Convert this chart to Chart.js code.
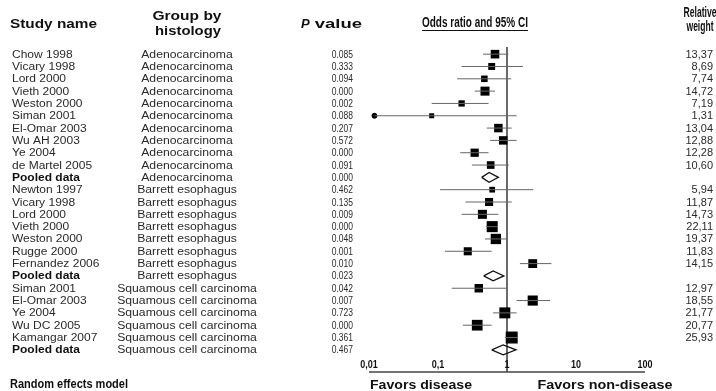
<!DOCTYPE html>
<html>
<head>
<meta charset="utf-8">
<script src="https://cdn.jsdelivr.net/npm/chart.js@4.4.1/dist/chart.umd.min.js"></script>
<style>
  body { margin: 0; background: #fff; }
  canvas { display: block; }
</style>
</head>
<body>
<canvas id="chart" width="716" height="391"></canvas>
<script>
const studies = ["Chow 1998", "Vicary 1998", "Lord 2000", "Vieth 2000", "Weston 2000", "Siman 2001", "El-Omar 2003", "Wu AH 2003", "Ye 2004", "de Martel 2005", "Pooled data",
  "Newton 1997", "Vicary 1998", "Lord 2000", "Vieth 2000", "Weston 2000", "Rugge 2000", "Fernandez 2006", "Pooled data",
  "Siman 2001", "El-Omar 2003", "Ye 2004", "Wu DC 2005", "Kamangar 2007", "Pooled data"];
const groups = ["Adenocarcinoma", "Adenocarcinoma", "Adenocarcinoma", "Adenocarcinoma", "Adenocarcinoma", "Adenocarcinoma", "Adenocarcinoma", "Adenocarcinoma", "Adenocarcinoma", "Adenocarcinoma", "Adenocarcinoma",
  "Barrett esophagus", "Barrett esophagus", "Barrett esophagus", "Barrett esophagus", "Barrett esophagus", "Barrett esophagus", "Barrett esophagus", "Barrett esophagus",
  "Squamous cell carcinoma", "Squamous cell carcinoma", "Squamous cell carcinoma", "Squamous cell carcinoma", "Squamous cell carcinoma", "Squamous cell carcinoma"];
const pValues = ["0.085", "0.333", "0.094", "0.000", "0.002", "0.088", "0.207", "0.572", "0.000", "0.091", "0.000",
  "0.462", "0.135", "0.009", "0.000", "0.048", "0.001", "0.010", "0.023",
  "0.042", "0.007", "0.723", "0.000", "0.361", "0.467"];
const oddsRatio = [0.67, 0.60, 0.47, 0.48, 0.22, 0.081, 0.75, 0.88, 0.34, 0.58, 0.55,
  0.61, 0.55, 0.44, 0.61, 0.69, 0.27, 2.36, 0.63,
  0.39, 2.36, 0.93, 0.37, 1.17, 0.88];
const ciLow = [0.45, 0.22, 0.19, 0.34, 0.081, 0.012, 0.51, 0.57, 0.21, 0.31, 0.43,
  0.107, 0.25, 0.22, 0.50, 0.48, 0.126, 1.54, 0.46,
  0.158, 1.38, 0.63, 0.23, 0.93, 0.60];
const ciHigh = [1.05, 1.70, 1.15, 0.67, 0.54, 1.38, 1.17, 1.38, 0.54, 1.06, 0.75,
  2.4, 1.17, 0.75, 0.74, 0.99, 0.60, 4.4, 0.90,
  0.97, 4.2, 1.38, 0.60, 1.45, 1.35];
// null = pooled row (drawn as diamond, no weight shown)
const weights = [13.37, 8.69, 7.74, 14.72, 7.19, 1.31, 13.04, 12.88, 12.28, 10.60, null,
  5.94, 11.87, 14.73, 22.11, 19.37, 11.83, 14.15, null,
  12.97, 18.55, 21.77, 20.77, 25.93, null];
const tickValues = [0.01, 0.1, 1, 10, 100];
const tickLabels = ["0,01", "0,1", "1", "10", "100"];

const FONT = "'Liberation Sans', Arial, sans-serif";
const AXIS_Y = 372;

function fitText(ctx, str, x, y, font, sx, align) {
  ctx.font = font;
  ctx.save();
  ctx.translate(x, y);
  ctx.scale(sx, 1);
  ctx.textAlign = align;
  ctx.fillText(str, 0, 0);
  ctx.restore();
}

function widthText(ctx, str, x, y, font, width, align) {
  ctx.font = font;
  const sx = width / ctx.measureText(str).width;
  fitText(ctx, str, x, y, font, sx, align);
}

// datasets built from the arrays
const datasets = [];
studies.forEach((s, i) => {
  if (weights[i] === null) {
    const h = 0.4;
    datasets.push({
      data: [
        { x: ciLow[i], y: i }, { x: oddsRatio[i], y: i - h },
        { x: ciHigh[i], y: i }, { x: oddsRatio[i], y: i + h },
        { x: ciLow[i], y: i }
      ],
      showLine: true, borderColor: "#111", borderWidth: 1.3,
      pointRadius: 0, tension: 0, clip: false
    });
  } else {
    datasets.push({
      data: [{ x: ciLow[i], y: i }, { x: ciHigh[i], y: i }],
      showLine: true, borderColor: "#666", borderWidth: 1,
      pointRadius: 0, clip: false
    });
  }
});

const rows = studies.map((s, i) => i).filter(i => weights[i] !== null);
datasets.push({
  data: rows.map(i => ({ x: oddsRatio[i], y: i })),
  pointStyle: "rect",
  pointRadius: rows.map(i => Math.max(5, 2.35 * Math.sqrt(weights[i])) / Math.SQRT2),
  backgroundColor: "#000", borderColor: "#000", borderWidth: 0,
  clip: false
});
// end markers for intervals running past the left edge
const clipped = rows.filter(i => ciLow[i] < 0.02);
datasets.push({
  data: clipped.map(i => ({ x: ciLow[i], y: i })),
  pointStyle: "circle", pointRadius: 2.5,
  backgroundColor: "#000", borderColor: "#000", clip: false
});

const forestPlugin = {
  id: "forest",
  beforeDatasetsDraw(chart) {
    const ctx = chart.ctx;
    const xs = chart.scales.x;
    ctx.save();
    ctx.strokeStyle = "#444";
    ctx.lineWidth = 1.6;
    const x1 = xs.getPixelForValue(1);
    ctx.beginPath();
    ctx.moveTo(x1, 47);
    ctx.lineTo(x1, AXIS_Y);
    ctx.stroke();
    ctx.lineWidth = 1.4;
    ctx.beginPath();
    ctx.moveTo(xs.getPixelForValue(tickValues[0]), AXIS_Y);
    ctx.lineTo(xs.getPixelForValue(tickValues[tickValues.length - 1]), AXIS_Y);
    ctx.stroke();
    ctx.restore();
  },
  afterDraw(chart) {
    const ctx = chart.ctx;
    const xs = chart.scales.x;
    const ys = chart.scales.y;
    ctx.save();
    ctx.textBaseline = "alphabetic";

    // headers
    ctx.fillStyle = "#111";
    widthText(ctx, "Study name", 10, 28, "bold 13px " + FONT, 87, "left");
    widthText(ctx, "Group by", 187, 20, "bold 13px " + FONT, 69, "center");
    widthText(ctx, "histology", 188, 35, "bold 13px " + FONT, 66, "center");
    ctx.font = "italic bold 13px " + FONT;
    const pw = ctx.measureText("P").width;
    fitText(ctx, "P", 301, 28, "italic bold 13px " + FONT, 1, "left");
    widthText(ctx, " value", 301 + pw, 28, "bold 13px " + FONT, 61 - pw, "left");
    widthText(ctx, "Odds ratio and 95% CI", 475, 27, "bold 14px " + FONT, 106, "center");
    ctx.strokeStyle = "#111";
    ctx.lineWidth = 1;
    ctx.beginPath();
    ctx.moveTo(422, 30.5);
    ctx.lineTo(528, 30.5);
    ctx.stroke();
    widthText(ctx, "Relative", 700, 17, "bold 14px " + FONT, 33, "center");
    widthText(ctx, "weight", 700, 31, "bold 14px " + FONT, 27, "center");

    // rows
    ctx.fillStyle = "#2a2a2a";
    studies.forEach((s, i) => {
      const y = ys.getPixelForValue(i) + 3.5;
      const pooled = weights[i] === null;
      if (pooled) ctx.fillStyle = "#111";
      fitText(ctx, s, 12, y, (pooled ? "bold " : "") + "10px " + FONT, 1.2, "left");
      ctx.fillStyle = "#2a2a2a";
      fitText(ctx, groups[i], 187, y, "10px " + FONT, 1.22, "center");
      fitText(ctx, pValues[i], 353, y, "10px " + FONT, 0.85, "right");
      if (!pooled) {
        fitText(ctx, weights[i].toFixed(2).replace(".", ","), 713, y, "10px " + FONT, 1.1, "right");
      }
    });

    // axis tick labels (above the axis line)
    ctx.fillStyle = "#111";
    tickValues.forEach((v, k) => {
      fitText(ctx, tickLabels[k], xs.getPixelForValue(v), 368, "bold 10px " + FONT, 0.9, "center");
    });

    // footer
    widthText(ctx, "Random effects model", 10, 388, "bold 12px " + FONT, 118, "left");
    widthText(ctx, "Favors disease", 421, 389, "bold 12px " + FONT, 102, "center");
    widthText(ctx, "Favors non-disease", 605, 389, "bold 12px " + FONT, 135, "center");
    ctx.restore();
  }
};

new Chart(document.getElementById("chart"), {
  type: "scatter",
  data: { datasets },
  options: {
    responsive: false,
    animation: false,
    devicePixelRatio: 1,
    layout: { padding: { left: 369, right: 71, top: 48, bottom: 35 } },
    scales: {
      x: { type: "logarithmic", min: 0.01, max: 100, display: false },
      y: { type: "linear", min: -0.5, max: 24.5, reverse: true, display: false }
    },
    plugins: { legend: { display: false }, tooltip: { enabled: false } }
  },
  plugins: [forestPlugin]
});
</script>
</body>
</html>
